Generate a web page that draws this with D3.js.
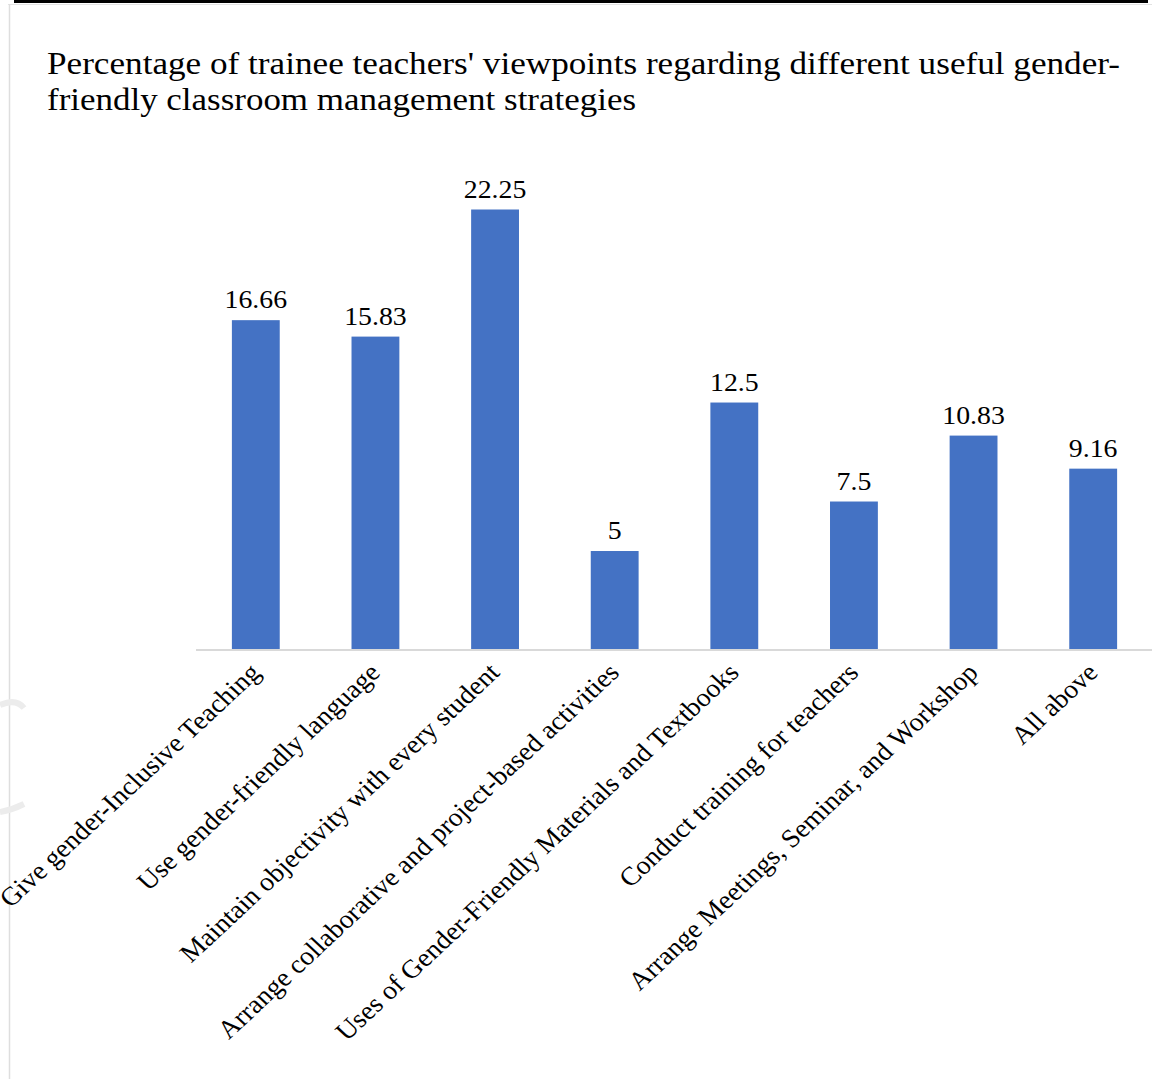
<!DOCTYPE html>
<html>
<head>
<meta charset="utf-8">
<script src="https://cdn.jsdelivr.net/npm/d3@7"></script>
<style>
	body { margin: 0; background: #fff; }
	svg { display: block; }
	text { font-family: "Liberation Serif", Tinos, "Times New Roman", Times, "DejaVu Serif", serif; fill: #000; }
	.c-bars__title { font-size: 31px; }
	.c-bars__value { font-size: 26px; }
	.c-bars__cat { font-size: 26px; }
</style>
</head>
<body>
<div id="chart"></div>
<script>
var categories = [
	"Give gender-Inclusive Teaching",
	"Use gender-friendly language",
	"Maintain objectivity with every student",
	"Arrange collaborative and project-based activities",
	"Uses of Gender-Friendly Materials and Textbooks",
	"Conduct training for teachers",
	"Arrange Meetings, Seminar, and Workshop",
	"All above"
];
var percentages = [16.66, 15.83, 22.25, 5, 12.5, 7.5, 10.83, 9.16];
var valueLabels = ["16.66", "15.83", "22.25", "5", "12.5", "7.5", "10.83", "9.16"];
var titleLines = [
	"Percentage of trainee teachers' viewpoints regarding different useful gender-",
	"friendly classroom management strategies"
];
var titleWidths = [1073, 589];

var width = 1152, height = 1079;
var margin = {top: 0, right: -1, bottom: 429, left: 196};
var stretch = 1.07; //the source image is slightly wider than tall
var classPrefix = "c-bars";

var svg = d3.select("#chart")
	.append("svg")
	.attr("width", width)
	.attr("height", height);

//Page frame remnants
svg.append("rect")
	.attr("x", 14).attr("y", 0)
	.attr("width", 1134).attr("height", 3)
	.attr("fill", "#000");
svg.append("line")
	.attr("x1", 8).attr("x2", width).attr("y1", 4.5).attr("y2", 4.5)
	.attr("stroke", "#e3e3e3").attr("stroke-width", 1);
svg.append("line")
	.attr("x1", 9.5).attr("x2", 9.5).attr("y1", 4).attr("y2", height)
	.attr("stroke", "#dedede").attr("stroke-width", 1.5);
[781, 965].forEach(function(x){
	svg.append("rect")
		.attr("x", x - 1).attr("y", 0)
		.attr("width", 2).attr("height", 3)
		.attr("fill", "#000");
});

//Faint watermark at the left edge
svg.append("path")
	.attr("d", "M0,705 Q16,698 24,708 M0,812 Q12,810 24,804")
	.attr("fill", "none")
	.attr("stroke", "#ececec")
	.attr("stroke-width", 6);

//Scales
var xScale = d3.scaleBand()
	.domain(categories)
	.range([margin.left, width - margin.right])
	.paddingInner(0.6)
	.paddingOuter(0.3);

var yScale = d3.scaleLinear()
	.domain([0, 22.25])
	.range([height - margin.bottom, 209.5]);

var baseY = yScale(0);

//Title
var title = svg.append("text")
	.attr("class", classPrefix + "__title")
	.attr("x", 47)
	.attr("y", 74);
title.selectAll("tspan")
	.data(titleLines)
	.enter().append("tspan")
	.attr("x", 47)
	.attr("dy", function(d, i){ return i === 0 ? 0 : 36; })
	.attr("textLength", function(d, i){ return titleWidths[i]; })
	.attr("lengthAdjust", "spacingAndGlyphs")
	.text(function(d){ return d; });

//Bars
svg.append("g")
	.attr("class", classPrefix + "__bars")
	.selectAll("rect")
	.data(percentages)
	.enter().append("rect")
	.attr("x", function(d, i){ return xScale(categories[i]); })
	.attr("y", function(d){ return yScale(d); })
	.attr("width", xScale.bandwidth())
	.attr("height", function(d){ return baseY - yScale(d); })
	.attr("fill", "#4472C4");

//Axis line
var xAxis = d3.axisBottom(xScale).tickSize(0).tickFormat("");
var axisG = svg.append("g")
	.attr("class", classPrefix + "__axis")
	.attr("transform", "translate(0," + baseY + ")")
	.call(xAxis);
axisG.select(".domain")
	.attr("stroke", "#d9d9d9")
	.attr("stroke-width", 2)
	.attr("d", "M" + margin.left + ",0H" + width);

//Value labels
svg.append("g")
	.selectAll("text")
	.data(percentages)
	.enter().append("text")
	.attr("class", classPrefix + "__value")
	.attr("text-anchor", "middle")
	.attr("transform", function(d, i){
		var cx = xScale(categories[i]) + xScale.bandwidth() / 2;
		return "translate(" + cx + "," + (yScale(d) - 12) + ")scale(" + stretch + ",1)";
	})
	.text(function(d, i){ return valueLabels[i]; });

//Category labels, rotated
svg.append("g")
	.selectAll("text")
	.data(categories)
	.enter().append("text")
	.attr("class", classPrefix + "__cat")
	.attr("text-anchor", "end")
	.attr("transform", function(d){
		var cx = xScale(d) + xScale.bandwidth() / 2;
		return "translate(" + (cx + 6) + "," + (baseY + 24) + ")scale(" + stretch + ",1)rotate(-45)";
	})
	.text(function(d){ return d; });
</script>
</body>
</html>
